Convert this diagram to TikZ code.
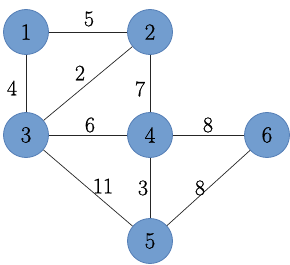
\documentclass[tikz,border=0pt]{standalone}
\usepackage{fontspec}
\newfontfamily\numfont[FakeBold=0.8]{Latin Modern Roman}
\definecolor{vfill}{RGB}{114,157,207}
\definecolor{vdraw}{RGB}{84,126,182}
\begin{document}
\begin{tikzpicture}[x=1pt,y=-1pt,
  vertex/.style={circle,fill=vfill,draw=vdraw,line width=0.8pt,minimum size=45pt,inner sep=0pt,font=\numfont\fontsize{23}{23}\selectfont},
  edge/.style={draw=black!85,line width=0.7pt},
  wlabel/.style={inner sep=0pt,font=\numfont\fontsize{22}{22}\selectfont}]
\useasboundingbox (0,0) rectangle (290,265);
\node[vertex] (n1) at (26,32) {1};
\node[vertex] (n2) at (150,32) {2};
\node[vertex] (n3) at (26,135) {3};
\node[vertex] (n4) at (150,135) {4};
\node[vertex] (n6) at (267,135) {6};
\node[vertex] (n5) at (150,241) {5};
\draw[edge] (n1) -- (n2);
\draw[edge] (n1) -- (n3);
\draw[edge] (n3) -- (n2);
\draw[edge] (n2) -- (n4);
\draw[edge] (n3) -- (n4);
\draw[edge] (n4) -- (n6);
\draw[edge] (n3) -- (n5);
\draw[edge] (n4) -- (n5);
\draw[edge] (n6) -- (n5);
\node[wlabel] (l12) at (89,19) {5};
\node[wlabel] (l13) at (12,88) {4};
\node[wlabel] (l23) at (80,73) {2};
\node[wlabel] (l24) at (140,89) {7};
\node[wlabel] (l34) at (90,125) {6};
\node[wlabel] (l46) at (208,125) {8};
\node[wlabel] (l35) at (103,186) {11};
\node[wlabel] (l45) at (143,188) {3};
\node[wlabel] (l56) at (200,188) {8};
\end{tikzpicture}
\end{document}
